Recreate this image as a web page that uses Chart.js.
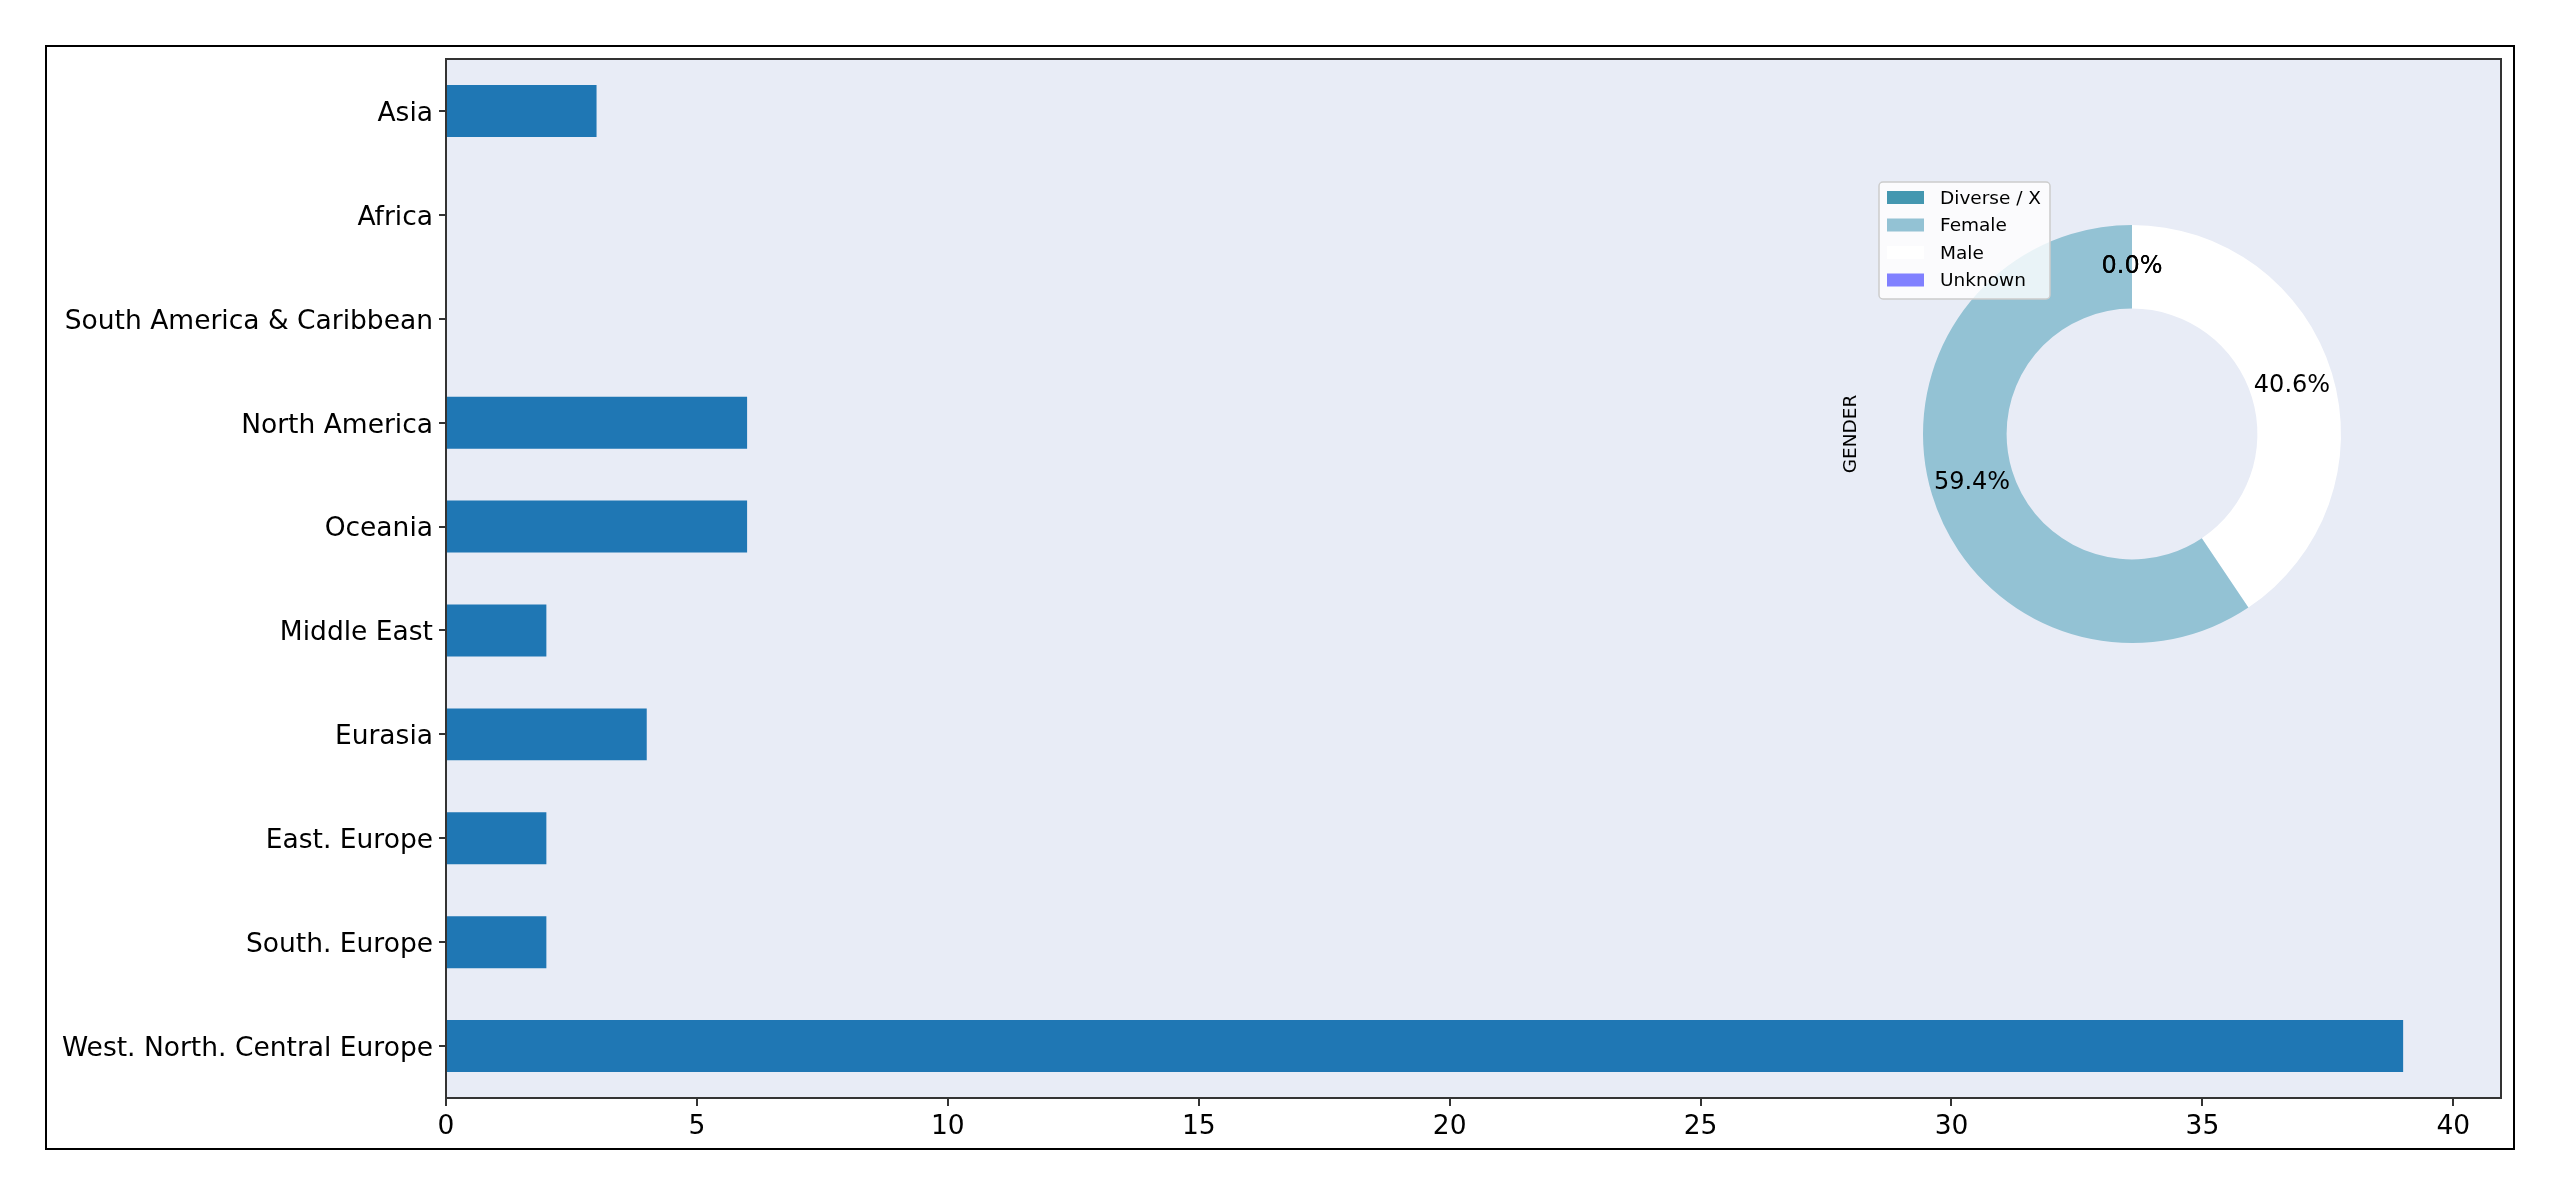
<!DOCTYPE html>
<html>
<head>
<meta charset="utf-8">
<script src="https://cdn.jsdelivr.net/npm/chart.js@4.4.0/dist/chart.umd.min.js"></script>
<style>
  html, body { margin: 0; padding: 0; background: #fff; }
  #wrap { position: relative; width: 2560px; height: 1197px; }
  #barChart { position: absolute; left: 0; top: 0; }
  #genderChart { position: absolute; left: 1832px; top: 134px; }
</style>
</head>
<body>
<div id="wrap">
  <canvas id="barChart" width="2560" height="1197"></canvas>
  <canvas id="genderChart" width="600" height="600"></canvas>
</div>
<script>
// region counts (horizontal bars, top to bottom)
const regions = ['Asia', 'Africa', 'South America & Caribbean', 'North America', 'Oceania',
    'Middle East', 'Eurasia', 'East. Europe', 'South. Europe', 'West. North. Central Europe'];
const regionCounts = [3, 0, 0, 6, 6, 2, 4, 2, 2, 39];
const xTicks = [0, 5, 10, 15, 20, 25, 30, 35, 40];

// gender split
const genderLabels = ['Diverse / X', 'Female', 'Male', 'Unknown'];
const genderValues = [0, 59.4, 40.6, 0];
const genderColors = ['#4497b0', '#93c2d4', '#ffffff', '#8080ff'];

const FONT = "'DejaVu Sans', sans-serif";
const spineColor = '#333333';

// frame + plot background + full box around plot
const frameBox = {
    id: 'frameBox',
    beforeDraw(chart) {
        const ctx = chart.ctx;
        const a = chart.chartArea;
        ctx.save();
        ctx.fillStyle = '#e8ecf6';
        ctx.fillRect(a.left, a.top, a.right - a.left, a.bottom - a.top);
        ctx.strokeStyle = '#000';
        ctx.lineWidth = 2;
        ctx.strokeRect(46, 46, 2514 - 46, 1149 - 46);
        ctx.restore();
    },
    afterDraw(chart) {
        const ctx = chart.ctx;
        const a = chart.chartArea;
        ctx.save();
        ctx.strokeStyle = spineColor;
        ctx.lineWidth = 2;
        ctx.strokeRect(a.left, a.top, a.right - a.left, a.bottom - a.top);
        ctx.restore();
    }
};

new Chart(document.getElementById('barChart'), {
    type: 'bar',
    data: {
        labels: regions,
        datasets: [{
            data: regionCounts,
            backgroundColor: '#1f77b4',
            borderWidth: 0,
            categoryPercentage: 1.0,
            barPercentage: 0.5
        }]
    },
    options: {
        indexAxis: 'y',
        responsive: false,
        animation: false,
        layout: { padding: { top: 59, right: 59, left: 0, bottom: 0 } },
        plugins: { legend: { display: false }, tooltip: { enabled: false } },
        scales: {
            x: {
                min: 0,
                max: 40.95,
                afterBuildTicks: (scale) => { scale.ticks = xTicks.map(v => ({ value: v })); },
                afterFit: (scale) => { scale.height = 99; },
                grid: { drawOnChartArea: false, drawTicks: true, tickLength: 8, color: spineColor, lineWidth: 2 },
                border: { display: true, color: spineColor, width: 2 },
                ticks: { color: '#000', font: { family: FONT, size: 26.5 }, padding: 5, maxRotation: 0 }
            },
            y: {
                afterFit: (scale) => { scale.width = 446; },
                grid: { drawOnChartArea: false, drawTicks: true, tickLength: 7, color: spineColor, lineWidth: 2, offset: false },
                border: { display: true, color: spineColor, width: 2 },
                ticks: { color: '#000', font: { family: FONT, size: 26.5 }, padding: 6, autoSkip: false, labelOffset: 3 }
            }
        }
    },
    plugins: [frameBox]
});

// percentage labels, GENDER axis label and legend for the donut
const donutExtras = {
    id: 'donutExtras',
    afterDraw(chart) {
        const ctx = chart.ctx;
        const arcs = chart.getDatasetMeta(0).data;
        ctx.save();
        ctx.fillStyle = '#000';
        ctx.font = '24px ' + FONT;
        ctx.textAlign = 'center';
        ctx.textBaseline = 'middle';
        arcs.forEach((arc, i) => {
            const mid = (arc.startAngle + arc.endAngle) / 2;
            const r = arc.outerRadius * 0.8;
            const pct = chart.data.datasets[0].data[i];
            ctx.fillText(pct.toFixed(1) + '%', arc.x + Math.cos(mid) * r, arc.y + Math.sin(mid) * r);
        });

        // axis label
        ctx.font = '18.5px ' + FONT;
        ctx.translate(19, 300);
        ctx.rotate(-Math.PI / 2);
        ctx.fillText('GENDER', 0, 0);
        ctx.setTransform(1, 0, 0, 1, 0, 0);

        // legend box
        const lx = 47, ly = 48, lw = 171, lh = 117;
        ctx.fillStyle = 'rgba(255,255,255,0.8)';
        ctx.strokeStyle = '#cccccc';
        ctx.lineWidth = 1.5;
        ctx.beginPath();
        ctx.roundRect(lx, ly, lw, lh, 4);
        ctx.fill();
        ctx.stroke();
        ctx.font = '18.5px ' + FONT;
        ctx.textAlign = 'left';
        genderLabels.forEach((lab, i) => {
            const y = ly + 9 + i * 27.5;
            ctx.fillStyle = genderColors[i];
            ctx.fillRect(lx + 8, y, 37, 13);
            ctx.fillStyle = '#000';
            ctx.fillText(lab, lx + 61, y + 8);
        });
        ctx.restore();
    }
};

// Chart.js goes clockwise from the top, matplotlib went counter-clockwise: feed the slices reversed
new Chart(document.getElementById('genderChart'), {
    type: 'doughnut',
    data: {
        labels: genderLabels.slice().reverse(),
        datasets: [{
            data: genderValues.slice().reverse(),
            backgroundColor: genderColors.slice().reverse(),
            borderWidth: 0
        }]
    },
    options: {
        responsive: false,
        animation: false,
        cutout: '60%',
        layout: { padding: 91 },
        plugins: { legend: { display: false }, tooltip: { enabled: false } }
    },
    plugins: [donutExtras]
});
</script>
</body>
</html>
